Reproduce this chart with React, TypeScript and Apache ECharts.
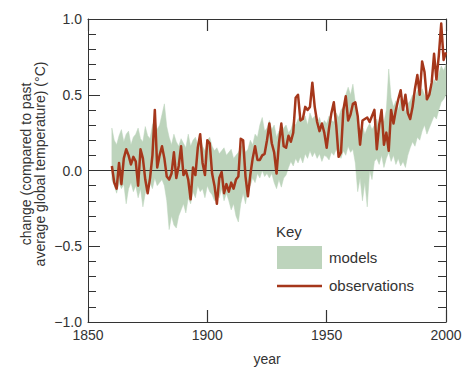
import React, { useEffect, useRef } from "react";
import * as echarts from "echarts";

const startYear = 1860;

const observations = [
  0.03, -0.08, -0.12, 0.05, -0.09, 0.08, 0.14, 0.10, 0.04, 0.09,
  0.06, -0.10, 0.14, 0.08, -0.06, -0.15, -0.05, 0.10, 0.40, 0.02,
  0.10, 0.16, 0.08, -0.04, -0.06, -0.02, 0.12, -0.05, 0.03, 0.16,
  -0.03, 0.00, -0.06, -0.19, 0.02, -0.03, 0.15, 0.24, 0.05, -0.03,
  0.20, 0.18, -0.02, -0.10, -0.22, -0.05, -0.01, -0.15, -0.09, -0.14,
  -0.08, -0.12, -0.06, -0.04, 0.21, 0.20, -0.04, -0.17, -0.03, 0.08,
  0.16, 0.07, 0.07, 0.10, 0.11, 0.20, 0.31, 0.18, 0.12, -0.02,
  0.18, 0.31, 0.16, 0.15, 0.23, 0.19, 0.25, 0.48, 0.50, 0.33,
  0.34, 0.42, 0.40, 0.42, 0.58, 0.42, 0.32, 0.26, 0.31, 0.25,
  0.15, 0.28, 0.38, 0.45, 0.30, 0.09, 0.12, 0.40, 0.49, 0.33,
  0.37, 0.44, 0.45, 0.36, 0.17, 0.33, 0.34, 0.35, 0.32, 0.36,
  0.40, 0.14, 0.30, 0.40, 0.17, 0.25, 0.13, 0.40, 0.31, 0.40,
  0.47, 0.53, 0.40, 0.50, 0.38, 0.34, 0.42, 0.54, 0.63, 0.50,
  0.72, 0.65, 0.47, 0.50, 0.58, 0.77, 0.60, 0.76, 0.97, 0.73,
  0.78,
];

const modelsUpper = [
  0.28, 0.20, 0.17, 0.23, 0.27, 0.19, 0.24, 0.26, 0.17, 0.22,
  0.24, 0.28, 0.21, 0.19, 0.29, 0.23, 0.21, 0.30, 0.34, 0.27,
  0.30, 0.37, 0.44, 0.29, 0.22, 0.17, 0.24, 0.19, 0.16, 0.21,
  0.18, 0.15, 0.24, 0.16, 0.20, 0.22, 0.17, 0.22, 0.16, 0.13,
  0.20, 0.22, 0.16, 0.13, 0.15, 0.11, 0.13, 0.15, 0.10, 0.12,
  0.14, 0.08, 0.10, 0.12, 0.15, 0.18, 0.12, 0.14, 0.20, 0.17,
  0.24, 0.22, 0.30, 0.35, 0.26, 0.28, 0.33, 0.27, 0.30, 0.22,
  0.26, 0.24, 0.28, 0.30, 0.25, 0.27, 0.32, 0.30, 0.34, 0.36,
  0.32, 0.36, 0.30, 0.38, 0.34, 0.36, 0.31, 0.35, 0.29, 0.33,
  0.31, 0.36, 0.33, 0.32, 0.38, 0.35, 0.40, 0.42, 0.50, 0.55,
  0.50, 0.57, 0.45, 0.30, 0.26, 0.30, 0.24, 0.28, 0.31, 0.27,
  0.30, 0.34, 0.28, 0.36, 0.32, 0.40, 0.67, 0.48, 0.42, 0.46,
  0.40, 0.47, 0.42, 0.39, 0.44, 0.46, 0.50, 0.47, 0.53, 0.49,
  0.54, 0.50, 0.46, 0.52, 0.55, 0.60, 0.58, 0.64, 0.69, 0.66,
  0.70,
];

const modelsLower = [
  -0.06, -0.10, -0.15, -0.08, -0.12, -0.09, -0.22, -0.12, -0.08, -0.14,
  -0.10, -0.18, -0.12, -0.24, -0.15, -0.10, -0.08, -0.12, -0.05, -0.10,
  -0.08, -0.06, -0.10, -0.20, -0.39, -0.30, -0.36, -0.38, -0.30, -0.26,
  -0.22, -0.28, -0.18, -0.22, -0.14, -0.18, -0.10, -0.14, -0.12, -0.18,
  -0.10, -0.14, -0.16, -0.20, -0.15, -0.18, -0.12, -0.20, -0.15, -0.20,
  -0.26, -0.22, -0.30, -0.34, -0.22, -0.15, -0.22, -0.12, -0.10, -0.05,
  -0.08, -0.02, -0.05, 0.00, -0.04, -0.02, -0.05, -0.02, -0.08, -0.12,
  -0.06, -0.11, -0.05, -0.03, 0.02, 0.06, 0.03, 0.08, 0.05, 0.09,
  0.05, 0.11, 0.08, 0.13, 0.09, 0.12, 0.08, 0.11, 0.06, 0.10,
  0.09, 0.07, 0.12, 0.10, 0.14, 0.11, 0.08, 0.13, 0.10, 0.16,
  0.12, 0.14, 0.05, -0.14, -0.05, -0.20, -0.08, -0.24, 0.00, -0.06,
  0.06, 0.08, 0.04, 0.10, 0.02, 0.08, 0.12, 0.06, 0.10, 0.04,
  0.08, 0.03, 0.06, 0.02, 0.10, 0.15, 0.19, 0.16, 0.22, 0.20,
  0.26, 0.30, 0.24, 0.28, 0.32, 0.36, 0.34, 0.40, 0.45, 0.47,
  0.50,
];

const xTicks = [1850, 1900, 1950, 2000];
const yTicks = [-1.0, -0.5, 0.0, 0.5, 1.0];

const FONT = "Liberation Sans, Arial, Helvetica, sans-serif";
const TEXT = "#333";
const AXIS = "#333";
const GREEN = "#bdd4bc";
const RED = "#a5371b";

export default function App() {
  const ref = useRef<HTMLDivElement>(null);

  useEffect(() => {
    if (!ref.current) return;
    const chart = echarts.init(ref.current, undefined, { renderer: "svg" });

    const years = observations.map((_, i) => startYear + i);
    const obsData = observations.map((v, i) => [years[i], v]);
    const bandData = years.map((y, i) => [y, modelsLower[i], modelsUpper[i]]);

    const fmtY = (v: number) => {
      const s = Math.abs(v).toFixed(1);
      return v < 0 ? "\u2212" + s : s;
    };

    const baseX = {
      type: "value" as const,
      min: xTicks[0],
      max: xTicks[xTicks.length - 1],
      interval: 50,
      splitLine: { show: false },
      axisLine: { show: true, onZero: false, lineStyle: { color: AXIS, width: 1 } },
      axisTick: { show: true, inside: true, length: 12, lineStyle: { color: AXIS, width: 1.2 } },
    };
    const baseY = {
      type: "value" as const,
      min: yTicks[0],
      max: yTicks[yTicks.length - 1],
      interval: 0.5,
      splitLine: { show: false },
      axisLine: { show: true, onZero: false, lineStyle: { color: AXIS, width: 1 } },
      axisTick: { show: true, inside: true, length: 12, lineStyle: { color: AXIS, width: 1 } },
      minorTick: { show: true, splitNumber: 5, length: 8, lineStyle: { color: AXIS, width: 1 } },
    };

    chart.setOption({
      animation: false,
      grid: { left: 88, top: 19, right: 27, bottom: 67 },
      xAxis: [
        {
          ...baseX,
          position: "bottom",
          axisLabel: {
            show: true,
            margin: 6,
            color: TEXT,
            fontSize: 14,
            fontFamily: FONT,
            formatter: (v: number) => String(v),
          },
          name: "year",
          nameLocation: "middle",
          nameGap: 30,
          nameTextStyle: { color: TEXT, fontSize: 14, fontFamily: FONT },
        },
        { ...baseX, position: "top", axisLabel: { show: false } },
      ],
      yAxis: [
        {
          ...baseY,
          position: "left",
          axisLabel: {
            show: true,
            margin: 6,
            color: TEXT,
            fontSize: 14,
            fontFamily: FONT,
            formatter: fmtY,
          },
        },
        { ...baseY, position: "right", axisLabel: { show: false } },
      ],
      graphic: [
        {
          type: "text",
          x: 33,
          y: 164,
          rotation: Math.PI / 2,
          style: {
            text: "change (compared to past\naverage global temperature) (°C)",
            textAlign: "center",
            textVerticalAlign: "middle",
            fill: TEXT,
            fontSize: 14,
            fontFamily: FONT,
            lineHeight: 14,
          },
        },
        {
          type: "text",
          x: 276,
          y: 231,
          style: { text: "Key", textVerticalAlign: "middle", fill: TEXT, fontSize: 15, fontFamily: FONT },
        },
        {
          type: "rect",
          shape: { x: 277, y: 246, width: 45, height: 23 },
          style: { fill: GREEN },
        },
        {
          type: "text",
          x: 329,
          y: 257,
          style: { text: "models", textVerticalAlign: "middle", fill: TEXT, fontSize: 15, fontFamily: FONT },
        },
        {
          type: "line",
          shape: { x1: 277, y1: 286, x2: 322, y2: 286 },
          style: { stroke: RED, lineWidth: 2.5 },
        },
        {
          type: "text",
          x: 329,
          y: 285,
          style: { text: "observations", textVerticalAlign: "middle", fill: TEXT, fontSize: 15, fontFamily: FONT },
        },
      ],
      series: [
        {
          name: "models",
          type: "custom",
          data: bandData,
          silent: true,
          z: 1,
          encode: { x: 0, y: [1, 2] },
          renderItem: (params: any, api: any) => {
            if (params.dataIndex !== 0) return null;
            const top = bandData.map((d) => api.coord([d[0], d[2]]));
            const bottom = bandData.map((d) => api.coord([d[0], d[1]])).reverse();
            return {
              type: "polygon",
              shape: { points: top.concat(bottom) },
              style: { fill: GREEN, stroke: GREEN, lineWidth: 0.5 },
            };
          },
        },
        {
          name: "observations",
          type: "line",
          data: obsData,
          symbol: "none",
          silent: true,
          lineStyle: { color: RED, width: 2.5, join: "round" },
          z: 3,
          markLine: {
            silent: true,
            symbol: "none",
            label: { show: false },
            lineStyle: { color: AXIS, width: 1, type: "solid" },
            data: [{ yAxis: 0 }],
            z: 2,
          },
        },
      ],
    });

    return () => chart.dispose();
  }, []);

  return <div ref={ref} style={{ width: 473, height: 389, position: "absolute", left: 0, top: 0 }} />;
}
